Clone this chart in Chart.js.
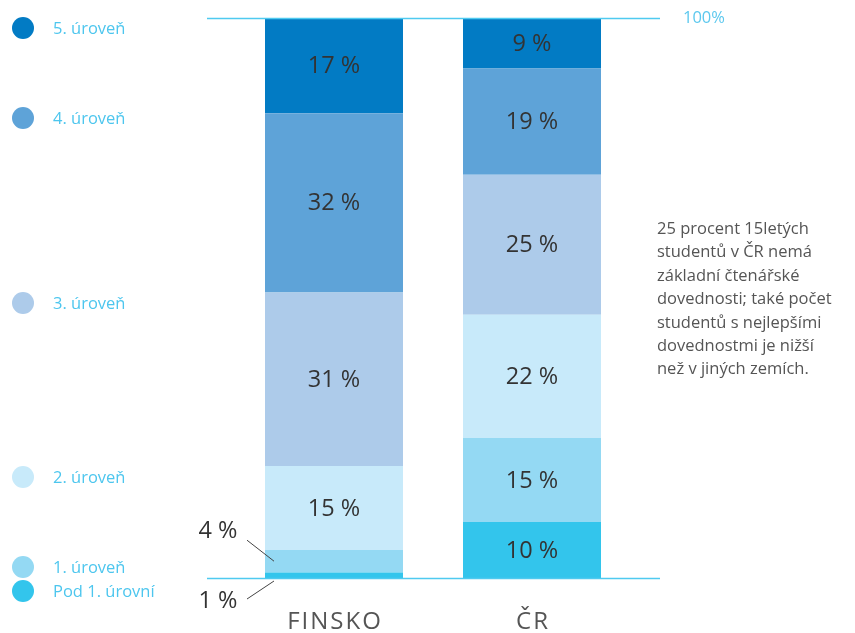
<!DOCTYPE html>
<html><head><meta charset="utf-8">
<script src="https://cdn.jsdelivr.net/npm/chart.js@4"></script>
<style>
body{margin:0;background:#fff;}
#wrap{position:relative;width:855px;height:633px;overflow:hidden;}
#c{position:absolute;left:0;top:0;}
.lg{position:absolute;left:0;height:24px;line-height:24px;font-family:'Open Sans',sans-serif;font-size:16.5px;color:#4dc6ee;white-space:nowrap;}
.lg span.dot{position:absolute;left:12px;top:1px;width:22px;height:22px;border-radius:50%;}
.lg span.t{position:absolute;left:53px;top:0;}
#note{position:absolute;left:657px;top:216px;width:200px;font-family:'Open Sans',sans-serif;font-size:16.5px;line-height:23.4px;color:#555;}
</style></head>
<body><div id="wrap"><canvas id="c" width="855" height="633"></canvas>
<div id="note">25 procent 15letých<br>studentů v ČR nemá<br>základní čtenářské<br>dovednosti; také počet<br>studentů s nejlepšími<br>dovednostmi je nižší<br>než v jiných zemích.</div>
</div>
<script>
const categories = ['FINSKO', 'ČR'];
const levelNames = ['Pod 1. úrovní', '1. úroveň', '2. úroveň', '3. úroveň', '4. úroveň', '5. úroveň'];
const pod1 = [1, 10];
const level1 = [4, 15];
const level2 = [15, 22];
const level3 = [31, 25];
const level4 = [32, 19];
const level5 = [17, 9];
const levelColors = ['#33c5ec', '#94d9f3', '#c8eafa', '#adcbea', '#5ea3d8', '#027bc4'];
const seriesValues = [pod1, level1, level2, level3, level4, level5];
const maxTick = 100;

// legend (HTML), positions are layout
const legendY = [591, 567, 477, 303, 118, 28];
const wrap = document.getElementById('wrap');
levelNames.forEach((n, i) => {
  const d = document.createElement('div');
  d.className = 'lg';
  d.style.top = (legendY[i] - 12) + 'px';
  d.innerHTML = '<span class="dot" style="background:' + levelColors[i] + '"></span><span class="t"></span>';
  d.querySelector('.t').textContent = n;
  wrap.appendChild(d);
});

const lineColor = '#4fcaf0';
const decor = {
  id: 'decor',
  afterDatasetsDraw(chart) {
    const ctx = chart.ctx;
    const ys = chart.scales.y, xs = chart.scales.x;
    ctx.save();
    // reference lines
    ctx.strokeStyle = lineColor;
    ctx.lineWidth = 1.5;
    [0, maxTick].forEach(v => {
      const y = Math.round(ys.getPixelForValue(v)) + 0.5;
      ctx.beginPath(); ctx.moveTo(207, y); ctx.lineTo(660, y); ctx.stroke();
    });
    ctx.fillStyle = '#5cc8ee';
    ctx.font = '16.5px "Open Sans"';
    ctx.textAlign = 'left'; ctx.textBaseline = 'middle';
    ctx.fillText(maxTick + '%', 683, ys.getPixelForValue(maxTick));
    // data labels
    ctx.font = '23.5px "Open Sans"';
    ctx.textAlign = 'center';
    chart.data.datasets.forEach((ds, di) => {
      const meta = chart.getDatasetMeta(di);
      meta.data.forEach((el, j) => {
        const v = ds.data[j];
        const cy = (el.y + el.base) / 2;
        ctx.fillStyle = '#333';
        if (v >= 5) {
          ctx.fillText(v + ' %', el.x, cy + 1);
        } else {
          const left = el.x - el.width / 2;
          ctx.strokeStyle = '#444'; ctx.lineWidth = 1;
          ctx.beginPath();
          if (di === 0) {
            ctx.moveTo(left + 9, el.base + 3); ctx.lineTo(left - 18, el.base + 21);
            ctx.stroke();
            ctx.fillText(v + ' %', left - 47, el.base + 23);
          } else {
            ctx.moveTo(left + 9, cy); ctx.lineTo(left - 18, cy - 21);
            ctx.stroke();
            ctx.fillText(v + ' %', left - 47, cy - 30);
          }
        }
      });
    });
    // category labels
    ctx.fillStyle = '#555';
    ctx.font = '24px "Open Sans"';
    ctx.letterSpacing = '2px';
    categories.forEach((c, i) => {
      ctx.fillText(c, xs.getPixelForValue(i) + 1, 622);
    });
    ctx.restore();
  }
};

new Chart(document.getElementById('c'), {
  type: 'bar',
  data: {
    labels: categories,
    datasets: seriesValues.map((vals, i) => ({
      label: levelNames[i],
      data: vals,
      backgroundColor: levelColors[i],
      borderWidth: 0,
      categoryPercentage: 1,
      barPercentage: 138 / 198
    }))
  },
  options: {
    responsive: false,
    animation: false,
    devicePixelRatio: 1,
    layout: { padding: { left: 235, right: 224, top: 18, bottom: 55 } },
    plugins: { legend: { display: false }, tooltip: { enabled: false } },
    scales: {
      x: { stacked: true, display: false },
      y: { stacked: true, display: false, min: 0, max: maxTick }
    }
  },
  plugins: [decor]
});
</script></body></html>
